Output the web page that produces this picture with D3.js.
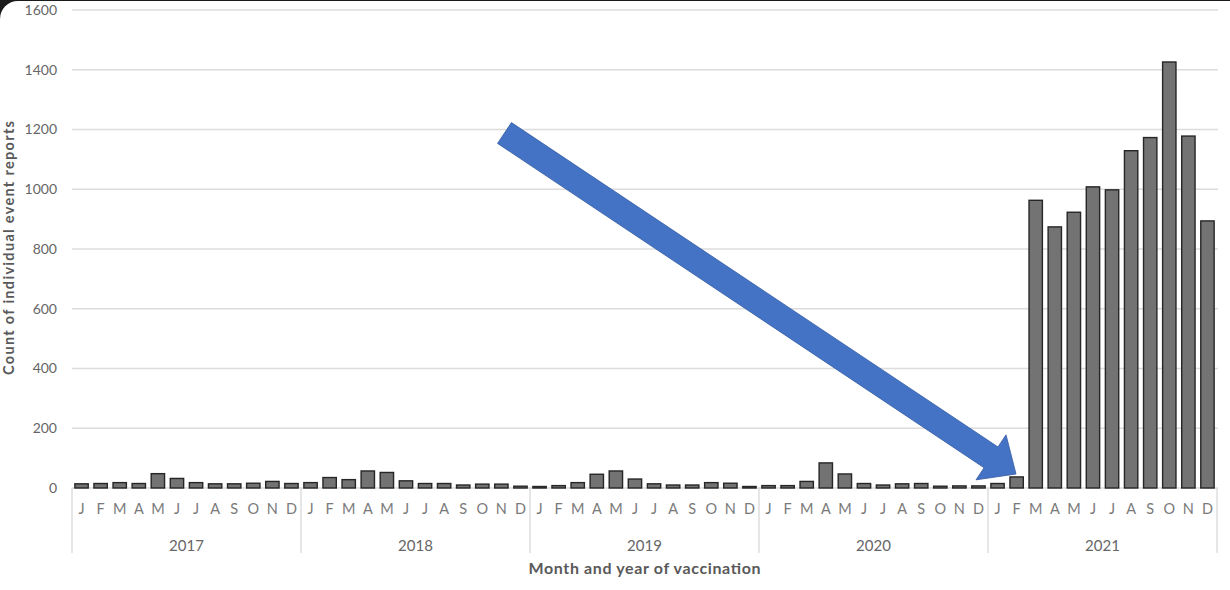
<!DOCTYPE html>
<html><head><meta charset="utf-8">
<script src="https://cdn.jsdelivr.net/npm/d3@7"></script>
<style>
html,body{margin:0;padding:0;background:#1b1b1b;overflow:hidden}
svg{display:block}
</style></head>
<body>
<svg id="chart" width="1230" height="590"></svg>
<script>
const years = ["2017","2018","2019","2020","2021"];
const monthLetters = ["J","F","M","A","M","J","J","A","S","O","N","D"];
const counts2017 = [14,15,18,15,48,32,18,14,14,16,22,15];
const counts2018 = [18,35,28,57,52,24,15,15,10,13,13,6];
const counts2019 = [5,8,18,46,57,30,14,10,10,18,16,5];
const counts2020 = [8,8,22,84,47,15,10,14,15,6,7,7];
const counts2021 = [15,37,963,874,923,1008,998,1129,1173,1426,1178,894];
const yTicks = [0,200,400,600,800,1000,1200,1400,1600];
const yTitle = "Count of individual event reports";
const xTitle = "Month and year of vaccination";

const seriesByYear = [counts2017,counts2018,counts2019,counts2020,counts2021];
const data = [];
years.forEach((yr,yi)=>monthLetters.forEach((m,mi)=>data.push({key:yr+"-"+mi,year:yr,month:m,value:seriesByYear[yi][mi]})));

const svg = d3.select("#chart");
svg.append("rect").attr("x",0).attr("y",1).attr("width",1260).attr("height",620).attr("rx",18).attr("fill","#ffffff");

const plotL=72, plotR=1217, plotT=10, plotB=488;
const x = d3.scaleBand().domain(data.map(d=>d.key)).range([plotL,plotR]).paddingInner(0.3).paddingOuter(0.15);
const y = d3.scaleLinear().domain([0,1600]).range([plotB,plotT]);
const font = "Lato, 'Open Sans', sans-serif";

// gridlines
svg.append("g").selectAll("line").data(yTicks).join("line")
  .attr("x1",plotL).attr("x2",plotR+1)
  .attr("y1",d=>y(d)).attr("y2",d=>y(d))
  .attr("stroke","#dcdcdc").attr("stroke-width",1.5);

// y axis labels
const yAxis = d3.axisLeft(y).tickValues(yTicks).tickFormat(d3.format("d")).tickSize(0).tickPadding(0);
const ga = svg.append("g").attr("transform",`translate(57,0)`).call(yAxis);
ga.select(".domain").remove();
ga.selectAll("text").attr("font-family",font).attr("font-size",14).attr("fill","#666");

// bars
svg.append("g").selectAll("rect").data(data).join("rect")
  .attr("x",d=>x(d.key)).attr("width",x.bandwidth())
  .attr("y",d=>y(d.value)).attr("height",d=>plotB-y(d.value))
  .attr("fill","#737373").attr("stroke","#262626").attr("stroke-width",1.4);

// month labels
svg.append("g").selectAll("text").data(data).join("text")
  .attr("x",d=>x(d.key)+x.bandwidth()/2).attr("y",514)
  .attr("text-anchor","middle").attr("font-family",font).attr("font-size",14.5)
  .attr("fill","#7a7a7a").text(d=>d.month);

// year separators and labels
const yearEdges = d3.range(years.length+1).map(i=>plotL+i*12*(plotR-plotL)/60);
svg.append("g").selectAll("line").data(yearEdges).join("line")
  .attr("x1",d=>d).attr("x2",d=>d).attr("y1",plotB).attr("y2",553)
  .attr("stroke","#d6d6d6").attr("stroke-width",1.2);
svg.append("g").selectAll("text").data(years).join("text")
  .attr("x",(d,i)=>(yearEdges[i]+yearEdges[i+1])/2).attr("y",551)
  .attr("text-anchor","middle").attr("font-family",font).attr("font-size",15)
  .attr("fill","#666").text(d=>d);

// axis titles
svg.append("text").attr("x",(plotL+plotR)/2).attr("y",574).attr("text-anchor","middle")
  .attr("font-family",font).attr("font-weight","bold").attr("font-size",16)
  .attr("textLength",232).attr("lengthAdjust","spacing")
  .attr("fill","#595959").text(xTitle);
svg.append("text").attr("transform",`translate(14,248) rotate(-90)`).attr("text-anchor","middle")
  .attr("font-family",font).attr("font-weight","bold").attr("font-size",14.5)
  .attr("textLength",254).attr("lengthAdjust","spacing")
  .attr("fill","#595959").text(yTitle);

// blue arrow annotation
const tail=[504.5,133], tip=[1016,474];
const dx=tip[0]-tail[0], dy=tip[1]-tail[1];
const len=Math.hypot(dx,dy), ang=Math.atan2(dy,dx)*180/Math.PI;
const sw=12.5, hw=27, hl=30;
const pts=[[0,-sw],[len-hl,-sw],[len-hl,-hw],[len,0],[len-hl,hw],[len-hl,sw],[0,sw]];
svg.append("path").attr("d",d3.line()(pts)+"Z")
  .attr("transform",`translate(${tail[0]},${tail[1]}) rotate(${ang})`)
  .attr("fill","#4472c4").attr("stroke","#3a62a8").attr("stroke-width",0.8);
</script>
</body></html>
